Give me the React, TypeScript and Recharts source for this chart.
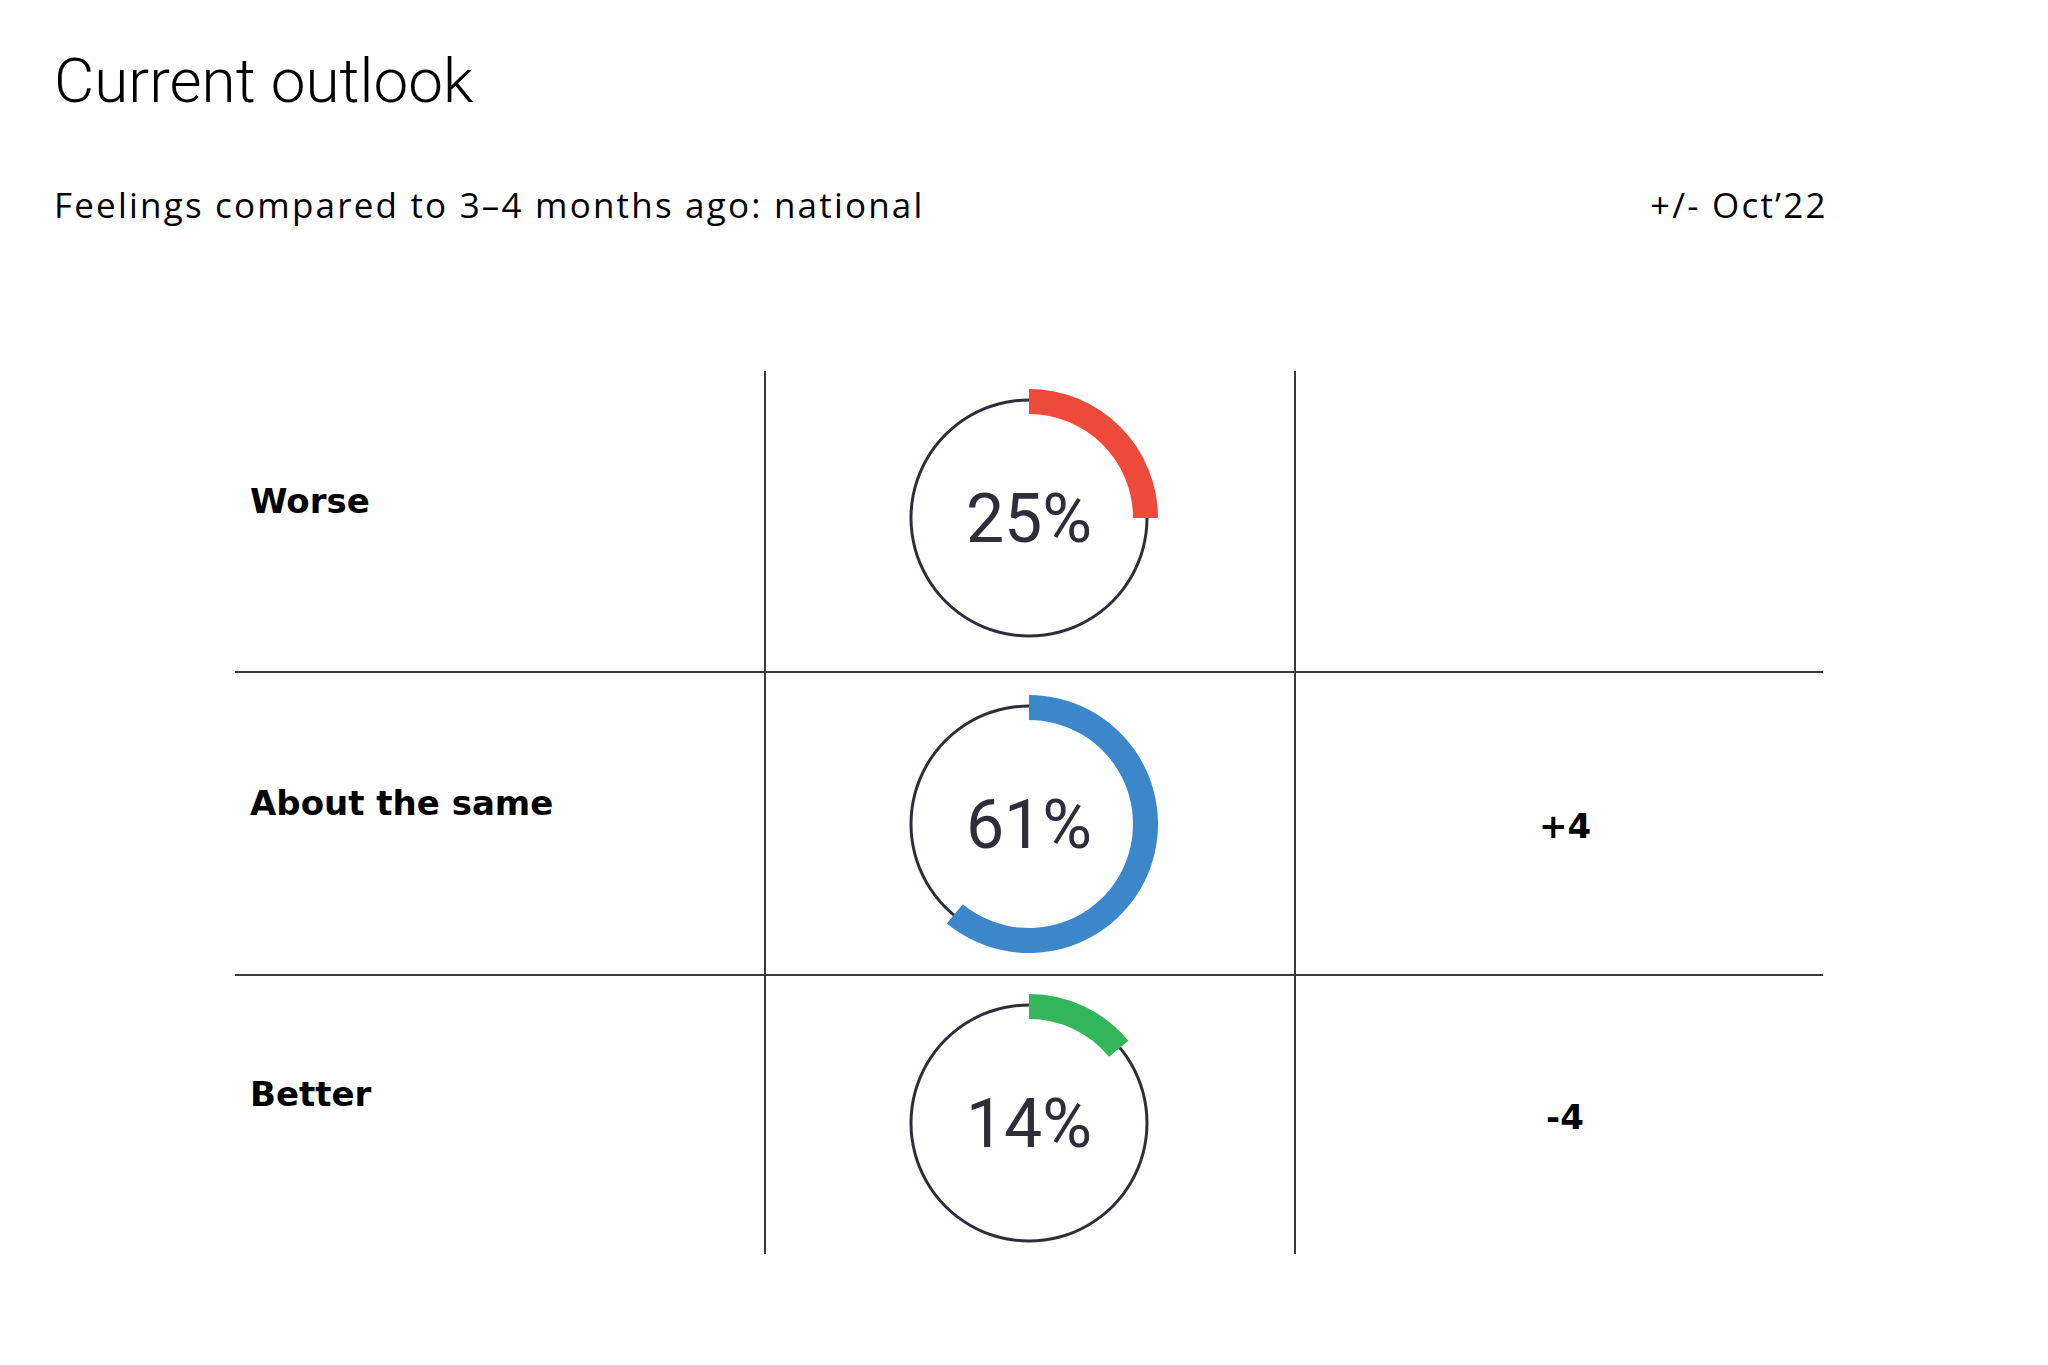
import { PieChart, Pie, Cell, Label } from "recharts";

const categories = ["Worse", "About the same", "Better"];
const shares = [25, 61, 14];
const changes = ["", "+4", "-4"];
const arcColors = ["#ee4a3c", "#3b87c9", "#33b55a"];

const INK = "#2e2e38";
const LINE = "#3a3a3a";

// row layout (px on the 2048x1365 page)
const rowDonutY = [518, 824, 1123];
const rowTextBaseline = [513, 815, 1106];
const donutX = 1029;
const changeX = 1565;

function Donut({ pct, color, cy }: { pct: number; color: string; cy: number }) {
  const arc = [
    { name: "share", value: pct },
    { name: "rest", value: 100 - pct },
  ];
  return (
    <div style={{ position: "absolute", left: donutX - 150, top: cy - 150, width: 300, height: 300 }}>
      <PieChart width={300} height={300} margin={{ top: 0, right: 0, bottom: 0, left: 0 }}>
        <Pie
          data={[{ name: "ring", value: 1 }]}
          dataKey="value"
          cx={150}
          cy={150}
          innerRadius={116.5}
          outerRadius={119.5}
          startAngle={90}
          endAngle={-270}
          stroke="none"
          fill={INK}
          isAnimationActive={false}
        />
        <Pie
          data={arc}
          dataKey="value"
          cx={150}
          cy={150}
          innerRadius={104}
          outerRadius={129}
          startAngle={90}
          endAngle={-270}
          stroke="none"
          isAnimationActive={false}
        >
          <Cell fill={color} />
          <Cell fill="transparent" />
          <Label
            value={`${pct}%`}
            position="center"
            fill={INK}
            style={{ fontFamily: "Roboto, sans-serif", fontSize: 68, fontWeight: 400 }}
          />
        </Pie>
      </PieChart>
    </div>
  );
}

export default function App() {
  const labelFont = { fontFamily: "'DejaVu Sans', sans-serif", fontWeight: 700, fontSize: 34, lineHeight: "34px" };
  const subFont = {
    fontFamily: "'Open Sans', sans-serif",
    fontSize: 35,
    fontWeight: 500,
    letterSpacing: 2.2,
    lineHeight: "35px",
  };
  return (
    <div
      style={{
        position: "absolute",
        left: 0,
        top: 0,
        width: 2048,
        height: 1365,
        background: "#fff",
        color: "#000",
        overflow: "hidden",
      }}
    >
      <div
        style={{
          position: "absolute",
          left: 54,
          top: 102 - 0.8415 * 62,
          fontFamily: "Roboto, sans-serif",
          fontWeight: 300,
          fontSize: 62,
          lineHeight: "62px",
          whiteSpace: "nowrap",
        }}
      >
        Current outlook
      </div>
      <div style={{ position: "absolute", left: 54, top: 218 - 0.888 * 35, whiteSpace: "nowrap", ...subFont }}>
        Feelings compared to 3–4 months ago: national
      </div>
      <div style={{ position: "absolute", left: 1650, top: 218 - 0.888 * 35, whiteSpace: "nowrap", ...subFont }}>
        +/- Oct’22
      </div>

      {/* table rules */}
      <div style={{ position: "absolute", left: 764, top: 371, width: 1.5, height: 883, background: LINE }} />
      <div style={{ position: "absolute", left: 1294, top: 371, width: 1.5, height: 883, background: LINE }} />
      <div style={{ position: "absolute", left: 235, top: 671, width: 1588, height: 1.5, background: LINE }} />
      <div style={{ position: "absolute", left: 235, top: 974, width: 1588, height: 1.5, background: LINE }} />

      {categories.map((c, i) => (
        <div
          key={c}
          style={{ position: "absolute", left: 250, top: rowTextBaseline[i] - 0.846 * 34, whiteSpace: "nowrap", ...labelFont }}
        >
          {c}
        </div>
      ))}

      {changes.map((ch, i) =>
        ch ? (
          <div
            key={i}
            style={{
              position: "absolute",
              left: changeX - 100,
              width: 200,
              textAlign: "center",
              top: rowTextBaseline[i] + 23 - 0.846 * 34,
              ...labelFont,
            }}
          >
            {ch}
          </div>
        ) : null
      )}

      {shares.map((p, i) => (
        <Donut key={i} pct={p} color={arcColors[i]} cy={rowDonutY[i]} />
      ))}
    </div>
  );
}
